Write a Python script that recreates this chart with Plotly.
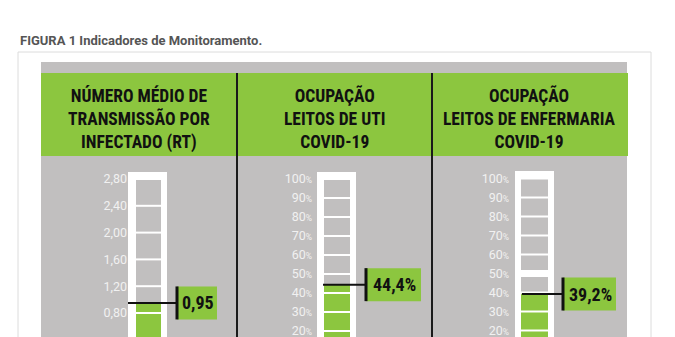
import plotly.graph_objects as go

# ---------------- data ----------------
headers = [
    "NÚMERO MÉDIO DE<br>TRANSMISSÃO POR<br>INFECTADO (RT)",
    "OCUPAÇÃO<br>LEITOS DE UTI<br>COVID-19",
    "OCUPAÇÃO<br>LEITOS DE ENFERMARIA<br>COVID-19",
]
values = [0.95, 44.4, 39.2]
rt_ticks = [0.0, 0.4, 0.8, 1.2, 1.6, 2.0, 2.4, 2.8]
pct_ticks = [0, 10, 20, 30, 40, 50, 60, 70, 80, 90, 100]
value_formats = ["rt", "pct", "pct"]

title_text = "FIGURA 1 Indicadores de Monitoramento."

# ---------------- styling / layout ----------------
W, H = 675, 337
GREEN = "#8cc63f"
GRAY = "#c1bfbf"
TICKCOL = "#f1f1f1"
COND = "Roboto Condensed, Open Sans Condensed, DejaVu Sans Condensed, sans-serif"


def px(x):
    return x / W


def py(y):
    return 1 - y / H


geo = [
    dict(left=41, right=237, center=148.5, inner=25, outerL=128, outerR=167, capTop=172,
         topPix=179, ppu=67.0, topVal=2.8, labelRight=124, lineStart=128, vline=177, boxR=217,
         thick=[]),
    dict(left=237, right=432, center=337, inner=26, outerL=317, outerR=356, capTop=172,
         topPix=179, ppu=1.9, topVal=100, labelRight=309, lineStart=323, vline=366, boxR=421,
         thick=[]),
    dict(left=432, right=627, center=534.5, inner=27, outerL=515, outerR=554, capTop=171,
         topPix=178.5, ppu=1.9, topVal=100, labelRight=506, lineStart=522, vline=563, boxR=616,
         thick=[50]),
]
ticks_per_col = [rt_ticks, pct_ticks, pct_ticks]


def fmt_tick(v, kind):
    if kind == "rt":
        return f"{v:.2f}".replace(".", ",")
    return f"{v}<span style='font-size:8.5px'>%</span>"


def fmt_val(v, kind):
    if kind == "rt":
        return f"{v:.2f}".replace(".", ",")
    return f"{v:.1f}%".replace(".", ",")


fig = go.Figure()
shapes = []
annotations = []

# frame, gray panel, green header, dividers
shapes.append(dict(type="rect", xref="paper", yref="paper", x0=px(18), x1=px(651),
                    y0=py(360), y1=py(52), line=dict(color="#dcdcdc", width=1),
                    fillcolor="rgba(0,0,0,0)", layer="below"))
shapes.append(dict(type="rect", xref="paper", yref="paper", x0=px(41), x1=px(627),
                    y0=py(360), y1=py(62), line=dict(width=0), fillcolor=GRAY, layer="below"))
shapes.append(dict(type="rect", xref="paper", yref="paper", x0=px(41), x1=px(628),
                    y0=py(156), y1=py(73), line=dict(width=0), fillcolor=GREEN, layer="below"))
for xd in (237, 432):
    shapes.append(dict(type="line", xref="paper", yref="paper", x0=px(xd), x1=px(xd),
                        y0=py(360), y1=py(73), line=dict(color="#1a1a1a", width=2), layer="above"))

annotations.append(dict(xref="paper", yref="paper", x=px(18), y=py(41), xanchor="left",
                        yanchor="middle", showarrow=False, text=title_text,
                        font=dict(family="Roboto", size=13, color="#555555", weight="bold")))

layout_axes = {}
for i, g in enumerate(geo):
    n = i + 1
    xa = "x" if n == 1 else f"x{n}"
    ya = "y" if n == 1 else f"y{n}"
    kind = value_formats[i]
    ticks = ticks_per_col[i]
    v = values[i]
    c = g["center"]

    ybot = g["topVal"] - (H - g["topPix"]) / g["ppu"]
    ytop = g["topVal"] + (g["topPix"] - 160) / g["ppu"]

    layout_axes["xaxis" if n == 1 else f"xaxis{n}"] = dict(
        domain=[px(g["left"]), px(g["right"])], range=[g["left"] - c, g["right"] - c],
        visible=False, fixedrange=True, anchor=ya)
    layout_axes["yaxis" if n == 1 else f"yaxis{n}"] = dict(
        domain=[0, py(160)], range=[ybot, ytop], anchor="free",
        position=px(g["labelRight"] + 3), showgrid=False, zeroline=False, showline=False,
        ticks="", tickvals=ticks, ticktext=[fmt_tick(t, kind) for t in ticks],
        ticklabeloverflow="allow",
        tickfont=dict(family="Roboto", size=12.5, color=TICKCOL), fixedrange=True)

    # tube: white outer, gray inner
    shapes.append(dict(type="rect", xref=xa, yref=ya, x0=g["outerL"] - c, x1=g["outerR"] - c,
                        y0=ybot - 1, y1=g["topVal"] + (g["topPix"] - g["capTop"]) / g["ppu"],
                        fillcolor="white", line=dict(width=0), layer="below"))
    shapes.append(dict(type="rect", xref=xa, yref=ya, x0=-g["inner"] / 2, x1=g["inner"] / 2,
                        y0=ybot - 1, y1=g["topVal"], fillcolor=GRAY, line=dict(width=0),
                        layer="below"))

    # fill bar
    fig.add_trace(go.Bar(x=[0], y=[v], width=[g["inner"]], marker=dict(color=GREEN, line=dict(width=0)),
                         xaxis=xa, yaxis=ya, hoverinfo="skip", showlegend=False))

    # white scale lines in the tube
    gx, gy = [], []
    for t in ticks:
        gx += [-g["inner"] / 2, g["inner"] / 2, None]
        gy += [t, t, None]
    fig.add_trace(go.Scatter(x=gx, y=gy, mode="lines", line=dict(color="white", width=2),
                             xaxis=xa, yaxis=ya, hoverinfo="skip", showlegend=False))
    for t in g["thick"]:
        shapes.append(dict(type="rect", xref=xa, yref=ya, x0=-g["inner"] / 2 - 1, x1=g["inner"] / 2 + 1,
                            ysizemode="pixel", yanchor=t, y0=-3.5, y1=3.5,
                            fillcolor="white", line=dict(width=0), layer="above"))

    # indicator line
    fig.add_trace(go.Scatter(x=[g["lineStart"] - c, g["vline"] - c], y=[v, v], mode="lines",
                             line=dict(color="#111111", width=2), xaxis=xa, yaxis=ya,
                             hoverinfo="skip", showlegend=False))

    # label box + vertical bar
    shapes.append(dict(type="rect", xref=xa, yref=ya, x0=g["vline"] - c, x1=g["boxR"] - c,
                        ysizemode="pixel", yanchor=v, y0=-16.5, y1=16.5,
                        fillcolor=GREEN, line=dict(width=0), layer="above"))
    shapes.append(dict(type="line", xref=xa, yref=ya, x0=g["vline"] - c, x1=g["vline"] - c,
                        ysizemode="pixel", yanchor=v, y0=-16.5, y1=16.5,
                        line=dict(color="#111111", width=3), layer="above"))
    annotations.append(dict(xref=xa, yref=ya, x=(g["vline"] + g["boxR"]) / 2 - c + 1, y=v,
                            text=fmt_val(v, kind), showarrow=False, xanchor="center",
                            yanchor="middle",
                            font=dict(family=COND, size=18, color="#111111", weight="bold")))

    # header
    annotations.append(dict(xref="paper", yref="paper", x=px((g["left"] + g["right"]) / 2),
                            y=py(118.5), text=headers[i], showarrow=False, xanchor="center",
                            yanchor="middle", align="center",
                            font=dict(family=COND, size=17.5, color="#111111", weight="bold")))

fig.update_layout(
    width=W, height=H, autosize=False, margin=dict(l=0, r=0, t=0, b=0),
    paper_bgcolor="white", plot_bgcolor="rgba(0,0,0,0)", showlegend=False,
    shapes=shapes, annotations=annotations, barmode="overlay", **layout_axes)

fig.write_html("out.html", config={"displayModeBar": False})
